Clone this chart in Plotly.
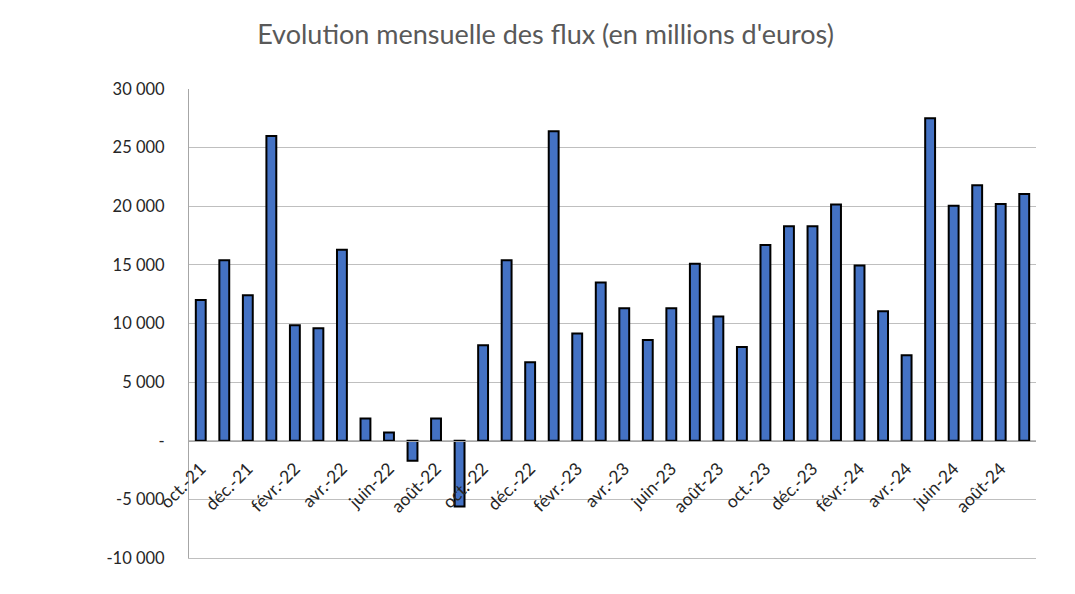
import plotly.graph_objects as go

months = ["oct.-21", "nov.-21", "déc.-21", "janv.-22", "févr.-22", "mars-22", "avr.-22", "mai-22",
          "juin-22", "juil.-22", "août-22", "sept.-22", "oct.-22", "nov.-22", "déc.-22", "janv.-23",
          "févr.-23", "mars-23", "avr.-23", "mai-23", "juin-23", "juil.-23", "août-23", "sept.-23",
          "oct.-23", "nov.-23", "déc.-23", "janv.-24", "févr.-24", "mars-24", "avr.-24", "mai-24",
          "juin-24", "juil.-24", "août-24", "sept.-24"]
flux = [12000, 15400, 12400, 26000, 9850, 9600, 16300, 1900,
        700, -1700, 1900, -5600, 8150, 15400, 6700, 26400,
        9150, 13500, 11300, 8600, 11300, 15100, 10600, 8000,
        16700, 18300, 18300, 20150, 14950, 11050, 7300, 27500,
        20050, 21800, 20200, 21050]
shown_labels = months[::2]

y_tickvals = [-10000, -5000, 0, 5000, 10000, 15000, 20000, 25000, 30000]
y_ticktext = ["-10 000", "-5 000", "-", "5 000", "10 000", "15 000", "20 000", "25 000", "30 000"]

fig = go.Figure(go.Bar(
    x=months, y=flux,
    marker=dict(color="#4472C4", line=dict(color="black", width=2)),
    width=0.42,
))
# empty helper trace on a second x axis, used only to draw the bottom frame line
fig.add_trace(go.Bar(x=months, y=[None] * len(months), xaxis="x2", showlegend=False,
                     hoverinfo="skip"))

font_family = "Lato, 'Open Sans', sans-serif"
fig.update_layout(
    width=1075, height=594,
    paper_bgcolor="white", plot_bgcolor="white",
    margin=dict(l=181, r=47, t=81, b=44),
    title=dict(text="Evolution mensuelle des flux (en millions d'euros)",
               x=0.5, xanchor="center", y=0.955, yanchor="middle",
               font=dict(family=font_family, size=27, color="#595959")),
    showlegend=False,
    font=dict(family=font_family, size=16, color="#262626"),
    xaxis=dict(
        type="category", tickmode="array", tickvals=shown_labels, ticktext=shown_labels,
        tickangle=-45, showgrid=False, showline=True, linecolor="#A6A6A6", linewidth=1,
        ticks="", anchor="free", position=0.25, ticklabelstandoff=10,
        tickfont=dict(family=font_family, size=17.5, color="#262626"),
    ),
    xaxis2=dict(type="category", overlaying="x", anchor="y", side="bottom",
                showticklabels=False, ticks="", showgrid=False, showline=True,
                linecolor="#BFBFBF", linewidth=1),
)
fig.update_yaxes(
    range=[-10000, 30000], tickmode="array", tickvals=y_tickvals, ticktext=y_ticktext,
    showgrid=True, gridcolor="#BFBFBF", gridwidth=1, zeroline=False,
    showline=True, linecolor="#A6A6A6", linewidth=1, ticks="", ticklabelstandoff=20,
    tickfont=dict(family=font_family, size=16.5, color="#262626"),
)
fig.write_html("out.html")
